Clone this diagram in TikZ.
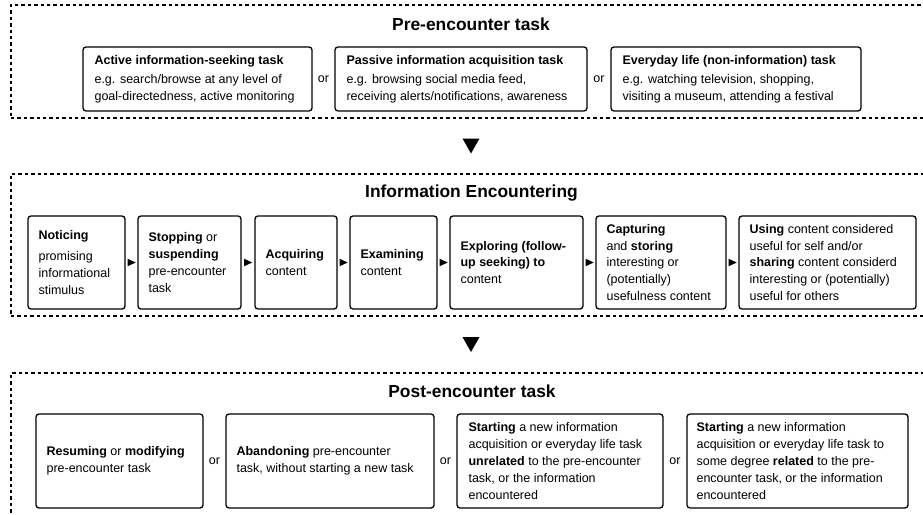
\documentclass[tikz,border=0pt]{standalone}
\usepackage{fontspec}
\setmainfont{Liberation Sans}
\usetikzlibrary{calc}
\begin{document}
\begin{tikzpicture}[x=1pt,y=-1pt,
  outerbox/.style={draw, line width=1.4pt, dash pattern=on 3.4pt off 3pt, inner sep=0pt},
  box/.style={draw, line width=1.3pt, rounded corners=3pt, inner sep=0pt},
  body/.style={anchor=west, align=left, inner sep=0pt, font=\fontsize{12.5}{16.8}\selectfont},
  ortxt/.style={inner sep=0pt, font=\fontsize{12.5}{15}\selectfont},
  ttl/.style={inner sep=0pt, font=\bfseries\fontsize{17.4}{20}\selectfont}]
\useasboundingbox (0,0) rectangle (923,514);
\clip (0,0) rectangle (923,514);

% outer containers
\node[outerbox, minimum width=920, minimum height=113] (pre) at (471,61.5) {};
\node[outerbox, minimum width=920, minimum height=142] (enc) at (471,245) {};
\node[outerbox, minimum width=920, minimum height=187] (post) at (471,466.5) {};

\node[ttl] (preT) at (471,24) {Pre-encounter task};
\node[ttl] (encT) at (471.5,193) {Information Encountering};
\node[ttl] (postT) at (472,391) {Post-encounter task};

% row 1
\node[box, minimum width=229, minimum height=64] (a) at (197.5,79) {};
\node[box, minimum width=252, minimum height=64] (b) at (461,79) {};
\node[box, minimum width=250, minimum height=64] (c) at (736,79) {};
\node[body] (at) at ([xshift=12]a.west) {\textbf{Active information-seeking task}\\[2pt]e.g. search/browse at any level of\\goal-directedness, active monitoring};
\node[body] (bt) at ([xshift=12]b.west) {\textbf{Passive information acquisition task}\\[2pt]e.g. browsing social media feed,\\receiving alerts/notifications, awareness};
\node[body] (ct) at ([xshift=12]c.west) {\textbf{Everyday life (non-information) task}\\[2pt]e.g. watching television, shopping,\\visiting a museum, attending a festival};
\path (a.east) -- node[ortxt] (or1) {or} (b.west);
\path (b.east) -- node[ortxt] (or2) {or} (c.west);

% row 2
\node[box, minimum width=97, minimum height=93] (n1) at (76.5,262.5) {};
\node[box, minimum width=103, minimum height=93] (n2) at (189.5,262.5) {};
\node[box, minimum width=82, minimum height=93] (n3) at (296,262.5) {};
\node[box, minimum width=87, minimum height=93] (n4) at (393.5,262.5) {};
\node[box, minimum width=133, minimum height=93] (n5) at (516.5,262.5) {};
\node[box, minimum width=130, minimum height=93] (n6) at (661,262.5) {};
\node[box, minimum width=177, minimum height=93] (n7) at (827.5,262.5) {};
\node[body] (n1t) at ([xshift=11]n1.west) {\textbf{Noticing}\\[4pt]promising\\informational\\stimulus};
\node[body] (n2t) at ([xshift=11]n2.west) {\textbf{Stopping} or\\\textbf{suspending}\\pre-encounter\\task};
\node[body] (n3t) at ([xshift=11]n3.west) {\textbf{Acquiring}\\content};
\node[body] (n4t) at ([xshift=11]n4.west) {\textbf{Examining}\\content};
\node[body] (n5t) at ([xshift=11]n5.west) {\textbf{Exploring (follow-}\\\textbf{up seeking) to}\\content};
\node[body] (n6t) at ([xshift=11]n6.west) {\textbf{Capturing}\\and \textbf{storing}\\interesting or\\(potentially)\\usefulness content};
\node[body] (n7t) at ([xshift=11]n7.west) {\textbf{Using} content considered\\useful for self and/or\\\textbf{sharing} content considerd\\interesting or (potentially)\\useful for others};

\foreach \p/\q in {n1/n2,n2/n3,n3/n4,n4/n5,n5/n6,n6/n7}{
  \path (\p.east) -- coordinate[pos=.5] (m-\p) (\q.west);
  \fill ($(m-\p)+(-4,-3.8)$) -- ($(m-\p)+(-4,3.8)$) -- ($(m-\p)+(4.2,0)$) -- cycle;
}

% big arrows
\path (pre.south) -- coordinate[pos=.5] (bm1) (enc.north);
\path (enc.south) -- coordinate[pos=.5] (bm2) (post.north);
\fill ($(bm1)+(-8.5,-7.5)$) -- ($(bm1)+(8.5,-7.5)$) -- ($(bm1)+(0,7.5)$) -- cycle;
\fill ($(bm2)+(-8.5,-7.5)$) -- ($(bm2)+(8.5,-7.5)$) -- ($(bm2)+(0,7.5)$) -- cycle;

% row 3
\node[box, minimum width=167, minimum height=94] (r1) at (119.5,461) {};
\node[box, minimum width=208, minimum height=94] (r2) at (330,461) {};
\node[box, minimum width=206, minimum height=94] (r3) at (560,461) {};
\node[box, minimum width=221, minimum height=94] (r4) at (797.5,461) {};
\node[body] (r1t) at ([xshift=11]r1.west) {\textbf{Resuming} or \textbf{modifying}\\pre-encounter task};
\node[body] (r2t) at ([xshift=11]r2.west) {\textbf{Abandoning} pre-encounter\\task, without starting a new task};
\node[body] (r3t) at ([xshift=12]r3.west) {\textbf{Starting} a new information\\acquisition or everyday life task\\\textbf{unrelated} to the pre-encounter\\task, or the information\\encountered};
\node[body] (r4t) at ([xshift=10]r4.west) {\textbf{Starting} a new information\\acquisition or everyday life task to\\some degree \textbf{related} to the pre-\\encounter task, or the information\\encountered};
\path (r1.east) -- node[ortxt] (or3) {or} (r2.west);
\path (r2.east) -- node[ortxt] (or4) {or} (r3.west);
\path (r3.east) -- node[ortxt] (or5) {or} (r4.west);
\end{tikzpicture}
\end{document}
